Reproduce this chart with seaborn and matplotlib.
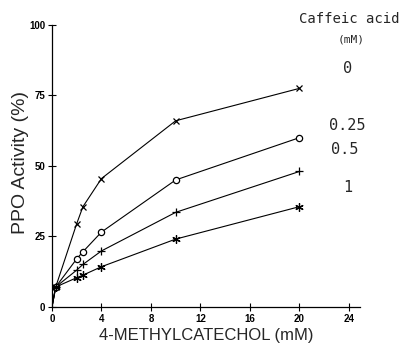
import matplotlib
matplotlib.use("Agg")
import matplotlib.pyplot as plt
import seaborn as sns
import pandas as pd

# Data
conc_0 = [0.3, 2, 2.5, 4, 10, 20]
ppo_0 = [7, 29.5, 35.5, 45.5, 66, 77.5]
conc_025 = [0.3, 2, 2.5, 4, 10, 20]
ppo_025 = [7, 17, 19.5, 26.5, 45, 60]
conc_05 = [0.3, 2, 2.5, 4, 10, 20]
ppo_05 = [7, 13, 15, 19.8, 33.5, 48]
conc_1 = [0.3, 2, 2.5, 4, 10, 20]
ppo_1 = [7, 10.3, 11.2, 14.2, 24, 35.5]
origin_x = 0
origin_y = 0

series_labels = ["0", "0.25", "0.5", "1"]
x_ticks = [0, 4, 8, 12, 16, 20, 24]
y_ticks = [0, 25, 50, 75, 100]

sns.set_theme(style="ticks")
plt.rcParams['font.family'] = ['Liberation Sans', 'DejaVu Sans']

fig = plt.figure(figsize=(4.02, 3.46), dpi=100)
ax = fig.add_axes([52/402, 1-306.7/346, 308/402, 281.7/346])

all_x = [conc_0, conc_025, conc_05, conc_1]
all_y = [ppo_0, ppo_025, ppo_05, ppo_1]
markers = ["x", "o", "+", (6, 2, 0)]
msizes = [5, 4.5, 6, 6]

for lab, xs, ys, mk, ms in zip(series_labels, all_x, all_y, markers, msizes):
    df = pd.DataFrame({"x": [origin_x] + xs, "y": [origin_y] + ys})
    sns.lineplot(data=df, x="x", y="y", ax=ax, color="black", linewidth=0.8,
                 estimator=None, sort=True)
    dfm = pd.DataFrame({"x": xs, "y": ys})
    if mk == "o":
        ax.plot(dfm["x"], dfm["y"], linestyle="none", marker=mk, markersize=ms,
                markerfacecolor="white", markeredgecolor="black", markeredgewidth=0.9,
                clip_on=False, zorder=3)
    else:
        ax.plot(dfm["x"], dfm["y"], linestyle="none", marker=mk, markersize=ms,
                color="black", markeredgewidth=0.9, clip_on=False, zorder=3)

ax.set_xlim(0, 24.9)
ax.set_ylim(0, 100)
ax.set_xticks(x_ticks)
ax.set_yticks(y_ticks)
ax.set_xticklabels([str(t) for t in x_ticks], fontsize=7, fontweight="bold")
ax.set_yticklabels([str(t) for t in y_ticks], fontsize=7, fontweight="bold")
ax.tick_params(direction="inout", length=6, width=0.8, pad=2, colors="black")
sns.despine(ax=ax)
for s in ["left", "bottom"]:
    ax.spines[s].set_linewidth(0.9)
    ax.spines[s].set_color("black")

ax.set_xlabel("4-METHYLCATECHOL (mM)", fontsize=12)
ax.set_ylabel("PPO Activity (%)", fontsize=14)
ax.xaxis.set_label_coords(0.5, -0.074)
ax.yaxis.set_label_coords(-0.076, 0.512)

mono = "DejaVu Sans Mono"
fig.text(349/402, 1-19/346, "Caffeic acid", family=mono, fontsize=10, ha="center", va="center")
fig.text(351/402, 1-40/346, "(mM)", family=mono, fontsize=8, ha="center", va="center")
label_pos = [(348, 68.5), (347, 125), (345, 150), (348, 188)]
for lab, (px, py) in zip(series_labels, label_pos):
    fig.text(px/402, 1-py/346, lab, family=mono, fontsize=11, ha="center", va="center")

fig.savefig("out.png", dpi=100)
